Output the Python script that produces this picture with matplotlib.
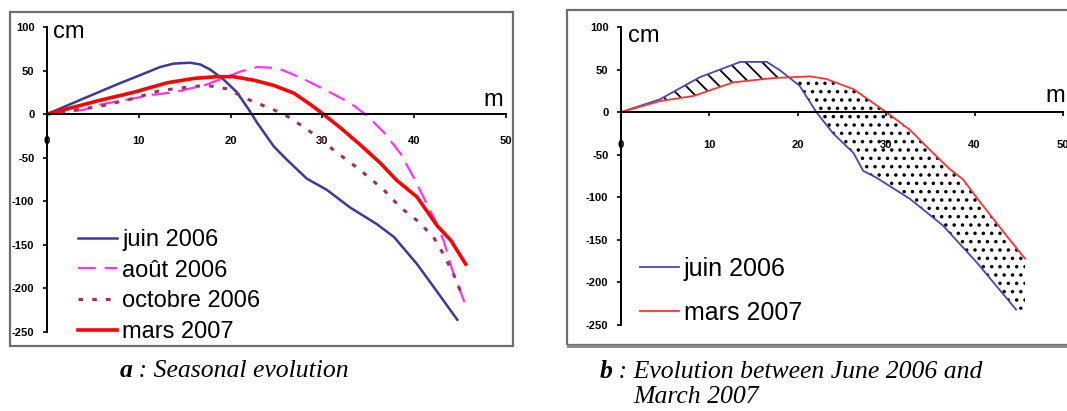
import matplotlib
matplotlib.use("Agg")
import matplotlib.pyplot as plt
from matplotlib import font_manager
from matplotlib.patches import Rectangle
import numpy as np

# panel a : seasonal profiles (distance m, height cm)
juin_x = [0, 4, 7.6, 10.2, 12.3, 13.8, 15.6, 16.7, 17.8, 19.2, 20.7, 22, 22.9, 24.7, 26.1,
          28.3, 30.5, 33, 35.9, 37.8, 40.3, 42.1, 44.7]
juin_y = [0, 18, 34, 45, 54, 58, 59, 57, 51, 40, 25, 5, -10, -37, -52,
          -74, -87, -107, -126, -141, -172, -198, -236]
aout_x = [0, 4, 5.8, 9.4, 11.3, 13.8, 17.4, 19.6, 21.1, 22.9, 25.1, 27.6, 30.1, 33, 34.9,
          36.7, 38.5, 39.9, 41, 42.1, 43.2, 44.3, 45.6]
aout_y = [0, 5, 11, 18, 22, 25, 34, 43, 49, 54, 53, 42, 29, 13, -2,
          -21, -45, -72, -95, -118, -145, -184, -219]
oct_x = [0, 5.8, 9.4, 12.3, 15.3, 17.4, 19.6, 22.1, 24.7, 26.1, 28.3, 31.2, 34.1, 36.7,
         38.5, 40.3, 42.1, 43.2, 44.3, 45.2]
oct_y = [0, 9, 18, 27, 31, 33, 29, 16, 5, -2, -17, -41, -64, -87,
         -107, -122, -141, -161, -184, -207]
mars_x = [0, 5.8, 9.4, 13.1, 16, 18.5, 20.3, 22.5, 24.7, 26.9, 28.7, 30.1, 32, 34.1,
          36.3, 38.1, 40.3, 42.5, 44, 45.6]
mars_y = [0, 16, 25, 36, 41, 43, 43, 39, 33, 24, 11, 0, -16, -35,
          -56, -76, -95, -128, -145, -172]

# panel b : June 2006 vs March 2007
bj_x = [0, 4.4, 8.9, 13.5, 16.5, 18, 20.2, 22.1, 24, 26.3, 27.4, 28.9, 32.7, 36.4, 40.2, 44.7]
bj_y = [0, 15, 41, 59, 59, 49, 31, 0, -25, -48, -69, -77, -102, -133, -176, -232]
bm_x = [0, 4.4, 8.2, 12.7, 17.2, 21.4, 23.2, 26.3, 30, 32.7, 35.3, 37.2, 38.7, 40.2, 43.6, 45.7]
bm_y = [0, 13, 19, 35, 40, 42, 39, 27, 0, -21, -48, -67, -79, -100, -145, -172]

xticks = [0, 10, 20, 30, 40, 50]
yticks = [100, 50, 0, -50, -100, -150, -200, -250]

names = {f.name for f in font_manager.fontManager.ttflist}
tickfont = "Liberation Sans Narrow" if "Liberation Sans Narrow" in names else "Liberation Sans"
plt.rcParams["font.family"] = "Liberation Sans"
plt.rcParams["axes.unicode_minus"] = False
plt.rcParams["hatch.linewidth"] = 1.3

W, H = 1067, 411
fig = plt.figure(figsize=(W / 100, H / 100), dpi=100)


def px_axes(left, right, top, bottom):
    return fig.add_axes([left / W, 1 - bottom / H, (right - left) / W, (bottom - top) / H])


def style(ax, xpad):
    ax.set_xlim(0, 50)
    ax.set_ylim(-250, 100)
    ax.spines["top"].set_visible(False)
    ax.spines["right"].set_visible(False)
    ax.spines["bottom"].set_position(("data", 0))
    ax.spines["left"].set_linewidth(1.4)
    ax.spines["bottom"].set_linewidth(1.4)
    ax.set_xticks(xticks)
    ax.set_yticks(yticks)
    ax.tick_params(axis="y", direction="out", length=3, width=1.2, pad=6)
    ax.tick_params(axis="x", direction="out", length=3, width=1.2, pad=xpad)
    for lab in ax.get_xticklabels() + ax.get_yticklabels():
        lab.set_fontfamily(tickfont)
        lab.set_fontsize(8)
        lab.set_fontweight("bold")
    ax.patch.set_alpha(0)


# frames round each panel
fig.patches.append(Rectangle((10 / W, 1 - 346 / H), 503 / W, 334 / H, transform=fig.transFigure,
                             fill=False, edgecolor="#6e6e6e", linewidth=1.6))
fig.patches.append(Rectangle((567 / W, 1 - 345 / H), 520 / W, 335 / H, transform=fig.transFigure,
                             fill=False, edgecolor="#6e6e6e", linewidth=1.6))
fig.patches.append(Rectangle((567 / W, 1 - 348 / H), 520 / W, 3 / H, transform=fig.transFigure,
                             color="#8a8a8a", linewidth=0))

# ---- a
ax1 = px_axes(47, 506, 27, 332)
style(ax1, 13)
ax1.plot(juin_x, juin_y, color="#3a3a9c", lw=1.8, label="juin 2006")
ax1.plot(aout_x, aout_y, color="#ff33ff", lw=1.6, dashes=(8, 4), label="août 2006")
ax1.plot(oct_x, oct_y, color="#993366", lw=2.2, dashes=(1.5, 3), label="octobre 2006")
ax1.plot(mars_x, mars_y, color="#ff0000", lw=2.6, label="mars 2007")
ax1.text(0.7, 87, "cm", fontsize=17, va="baseline")
ax1.text(48.6, 9, "m", fontsize=17, ha="center", va="baseline")
ax1.legend(loc="upper left", bbox_to_anchor=(78 / W, 1 - 229 / H), bbox_transform=fig.transFigure,
           frameon=False, fontsize=17, handlelength=1.67, handletextpad=0.2, labelspacing=0.37,
           borderpad=0, borderaxespad=0)

# ---- b
ax2 = px_axes(621, 1063, 27, 325)
style(ax2, 17)
xs = np.linspace(0, 45.7, 600)
jb = np.interp(xs, bj_x, bj_y)
mb = np.interp(xs, bm_x, bm_y)
ax2.fill_between(xs, jb, mb, where=jb >= mb, interpolate=True, facecolor="none",
                 edgecolor="black", hatch="\\\\", linewidth=0)
ax2.fill_between(xs, jb, mb, where=jb < mb, interpolate=True, facecolor="none",
                 edgecolor="black", hatch="..", linewidth=0)
ax2.plot(bj_x, bj_y, color="#4848b0", lw=1.3, label="juin 2006")
ax2.plot(bm_x, bm_y, color="#ff3333", lw=1.3, label="mars 2007")
ax2.text(0.8, 82, "cm", fontsize=17, va="baseline")
ax2.text(49.1, 12, "m", fontsize=17, ha="center", va="baseline")
ax2.legend(loc="upper left", bbox_to_anchor=(640 / W, 1 - 257 / H), bbox_transform=fig.transFigure,
           frameon=False, fontsize=18, handlelength=1.55, handletextpad=0.2, labelspacing=0.78,
           borderpad=0, borderaxespad=0)

# captions
cap = dict(family="Liberation Serif", fontsize=18.5, va="baseline")
fig.text(120 / W, 1 - 377 / H, "a", fontweight="bold", style="italic", **cap)
fig.text(132 / W, 1 - 377 / H, " : Seasonal evolution", style="italic", **cap)
fig.text(600 / W, 1 - 378 / H, "b", fontweight="bold", style="italic", **cap)
fig.text(612 / W, 1 - 378 / H, " : Evolution between June 2006 and", style="italic", **cap)
fig.text(633 / W, 1 - 403 / H, "March 2007", style="italic", **cap)

fig.savefig("out.png", dpi=100)
